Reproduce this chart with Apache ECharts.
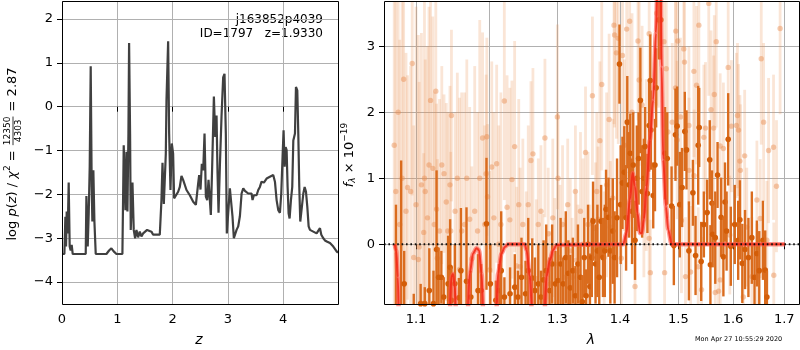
<!DOCTYPE html>
<html>
<head>
<meta charset="utf-8">
<script src="https://cdn.jsdelivr.net/npm/echarts@6/dist/echarts.min.js"></script>
<style>
html, body { margin: 0; padding: 0; background: #fff; }
#chart { width: 800px; height: 350px; }
</style>
</head>
<body>
<div id="chart"></div>
<script>
// left panel: log p(z) curve, [z, log p]
const pzPoints = [
  [0,-3.36],[0.043,-3.36],[0.061,-2.51],[0.073,-3.19],[0.085,-2.39],[0.103,-2.89],[0.121,-1.73],[0.139,-3.19],
  [0.157,-3.28],[0.175,-3.15],[0.194,-3.36],[0.429,-3.36],[0.441,-2.04],[0.465,-3.19],[0.483,-2.43],[0.501,-1.37],
  [0.519,0.92],[0.537,-1.83],[0.549,-2.62],[0.567,-1.45],[0.586,-2.62],[0.61,-3.36],[0.803,-3.36],[0.851,-3.28],
  [0.893,-3.23],[0.935,-3.3],[0.984,-3.36],[1.092,-3.36],[1.116,-0.88],[1.147,-2.36],[1.165,-1.03],[1.183,-2.39],
  [1.201,-0.61],[1.213,1.45],[1.231,-0.61],[1.243,-2.81],[1.262,-2.13],[1.274,-1.73],[1.297,-2.81],[1.322,-3.0],
  [1.346,-2.81],[1.376,-2.98],[1.406,-2.85],[1.436,-2.96],[1.467,-2.89],[1.539,-2.81],[1.617,-2.85],[1.648,-2.92],
  [1.768,-2.92],[1.798,-2.13],[1.817,-1.28],[1.841,-2.22],[1.877,-1.07],[1.889,0.14],[1.919,1.49],[1.937,-0.61],
  [1.961,-1.9],[1.985,-0.84],[2.009,-1.07],[2.027,-2.09],[2.058,-2.13],[2.1,-1.94],[2.13,-1.83],[2.16,-1.58],
  [2.19,-1.67],[2.221,-1.71],[2.251,-1.9],[2.311,-2.02],[2.372,-2.17],[2.42,-2.24],[2.462,-1.75],[2.48,-1.56],
  [2.504,-1.89],[2.528,-1.3],[2.553,-1.45],[2.577,-0.61],[2.601,-2.05],[2.625,-2.13],[2.649,-1.67],[2.667,-1.64],
  [2.691,-2.47],[2.715,-1.37],[2.746,0.23],[2.77,-0.69],[2.794,-0.2],[2.812,-1.52],[2.83,-2.42],[2.854,-1.37],
  [2.884,-0.23],[2.914,0.67],[2.938,0.75],[2.962,-0.61],[2.98,-2.89],[3.005,-2.92],[3.035,-1.86],[3.053,-1.83],
  [3.083,-2.51],[3.107,-3.0],[3.131,-3.04],[3.156,-2.81],[3.186,-2.73],[3.216,-2.5],[3.247,-1.98],[3.277,-1.86],
  [3.307,-1.92],[3.337,-1.9],[3.367,-1.98],[3.397,-1.94],[3.427,-1.98],[3.445,-2.13],[3.469,-2.02],[3.487,-1.98],
  [3.518,-2.02],[3.548,-1.9],[3.578,-1.83],[3.608,-1.71],[3.65,-1.73],[3.699,-1.64],[3.759,-1.6],[3.819,-1.56],
  [3.85,-1.71],[3.88,-2.13],[3.91,-2.36],[3.94,-2.42],[3.964,-1.98],[3.988,-1.14],[4.006,-0.54],[4.025,-1.37],
  [4.043,-0.92],[4.061,-0.99],[4.079,-1.83],[4.097,-2.43],[4.115,-2.55],[4.139,-2.13],[4.163,-1.83],[4.182,-0.77],
  [4.212,-0.61],[4.23,0.45],[4.254,0.37],[4.272,-0.61],[4.29,-1.83],[4.308,-2.62],[4.332,-2.58],[4.363,-1.98],
  [4.387,-1.83],[4.411,-1.94],[4.435,-2.28],[4.459,-2.73],[4.483,-2.81],[4.513,-2.77],[4.543,-2.85],[4.573,-2.81],
  [4.603,-2.89],[4.634,-2.92],[4.664,-2.77],[4.688,-2.92],[4.724,-3.0],[4.754,-3.05],[4.796,-3.08],[4.845,-3.11],
  [4.905,-3.19],[4.965,-3.3],[4.989,-3.33]
];

// right panel: spectrum points [lambda, flux, err]
const lightPoints = [
  [1.072,1.5,3.2],[1.074,0.8,3.0],[1.077,2.0,3.0],[1.079,0.3,2.8],[1.082,1.0,2.8],[1.084,2.5,2.6],[1.087,0.5,2.4],
  [1.089,0.86,1.7],[1.093,0.8,1.9],[1.095,2.74,2.0],[1.097,-0.2,2.0],[1.100,0.6,3.0],[1.103,-0.23,3.4],[1.104,-0.04,2.5],
  [1.107,0.9,2.3],[1.110,0.18,1.2],[1.111,1.0,2.7],[1.112,0.8,2.0],[1.115,0.4,2.6],[1.117,1.2,2.4],[1.119,2.18,2.2],
  [1.122,1.15,2.3],[1.124,0.3,2.0],[1.126,2.32,1.8],[1.127,0.53,1.6],[1.128,-0.21,1.5],[1.131,0.2,2.0],[1.134,1.2,1.5],
  [1.137,1.07,1.2],[1.140,0.64,1.5],[1.142,0.2,1.8],[1.145,0.9,1.5],[1.146,0.2,1.2],[1.147,1.95,1.3],[1.152,0.5,1.5],
  [1.155,1.0,1.6],[1.158,-0.38,2.6],[1.161,0.2,2.1],[1.165,0.3,2.0],[1.168,1.0,1.8],[1.172,0.38,1.7],[1.175,-0.22,1.4],
  [1.179,0.5,2.2],[1.183,0.2,1.8],[1.186,1.0,2.4],[1.190,1.61,1.6],[1.193,0.3,1.5],[1.195,1.07,1.5],[1.196,1.63,1.5],
  [1.197,0.72,1.1],[1.200,-0.39,1.5],[1.203,1.17,1.6],[1.206,0.4,1.6],[1.210,1.22,1.5],[1.213,0.0,1.8],[1.216,0.3,2.0],
  [1.221,2.17,1.5],[1.225,0.56,2.0],[1.229,0.37,2.0],[1.232,0.98,1.5],[1.236,1.48,1.6],[1.239,-0.33,1.2],[1.242,0.6,1.6],
  [1.244,-0.34,1.5],[1.248,0.3,1.3],[1.253,-0.5,1.3],[1.256,0.6,1.2],[1.260,1.27,1.2],[1.263,1.37,1.3],[1.268,-0.52,1.2],
  [1.271,0.3,1.0],[1.275,0.5,1.0],[1.278,-0.44,0.9],[1.281,1.61,1.2],[1.286,0.16,1.0],[1.289,-0.6,0.8],[1.293,0.4,1.2],
  [1.296,-0.3,1.0],[1.300,1.93,1.4],[1.301,1.0,1.0],[1.304,-0.2,1.1],[1.308,0.3,1.2],[1.312,-0.5,0.9],[1.316,0.6,1.0],
  [1.320,-0.1,1.1],[1.323,-0.5,0.9],[1.328,0.8,1.0],[1.329,-0.24,1.0],[1.332,-0.4,1.0],[1.336,0.5,1.2],[1.340,0.0,1.3],
  [1.344,1.39,1.0],[1.348,0.3,1.1],[1.351,-0.4,1.0],[1.355,2.25,1.2],[1.360,0.24,1.0],[1.362,0.8,1.2],[1.364,0.38,1.1],
  [1.367,1.57,1.2],[1.370,2.42,1.3],[1.374,-0.2,1.0],[1.378,0.9,1.4],[1.382,1.89,1.3],[1.384,0.26,1.0],[1.388,0.7,1.2],
  [1.390,3.32,1.5],[1.391,3.17,1.4],[1.394,2.90,1.3],[1.397,3.12,1.6],[1.402,-0.21,1.0],[1.404,2.86,1.3],[1.407,1.5,1.3],
  [1.411,3.26,1.5],[1.416,3.38,1.4],[1.420,2.0,1.5],[1.425,-0.64,0.9],[1.430,3.08,1.2],[1.432,2.49,1.3],[1.437,2.11,1.2],
  [1.440,0.5,1.0],[1.444,1.2,1.3],[1.449,3.19,1.4],[1.449,0.09,1.0],[1.451,-0.43,0.8],[1.462,3.5,1.4],[1.465,3.37,1.3],
  [1.4746,3.07,1.3],[1.4757,-0.43,1.0],[1.4786,2.66,1.2],[1.4815,1.70,1.3],[1.489,1.85,1.2],[1.4948,2.37,1.3],
  [1.4954,3.23,1.2],[1.4977,1.58,1.2],[1.4988,3.08,1.3],[1.5036,1.93,1.2],[1.5054,0.36,1.1],[1.5096,2.96,1.2],
  [1.5108,2.76,1.3],[1.5126,-0.49,0.9],[1.5187,1.80,1.2],[1.519,1.12,1.1],[1.5217,-0.42,1.0],[1.5277,2.62,1.3],
  [1.528,1.04,1.0],[1.5325,2.41,1.2],[1.5355,-0.34,0.9],[1.5367,3.32,1.3],[1.5415,-0.69,0.8],[1.5458,1.62,1.1],
  [1.5488,1.76,1.0],[1.5548,3.65,1.4],[1.559,2.04,1.2],[1.5638,1.76,1.1],[1.565,2.27,1.2],[1.5668,-0.73,0.8],
  [1.5686,3.07,1.3],[1.5728,-0.71,0.8],[1.5759,1.49,1.1],[1.576,-0.54,0.9],[1.5819,1.45,1.0],[1.5909,2.68,1.2],
  [1.594,0.14,0.9],[1.597,1.79,1.0],[1.6065,1.80,1.1],[1.6085,1.95,1.1],[1.6105,1.73,1.0],[1.6131,1.26,1.0],
  [1.614,1.12,1.0],[1.6196,-0.80,0.8],[1.6222,1.34,1.0],[1.6262,0.26,0.9],[1.636,-0.49,0.9],[1.6458,0.67,0.9],
  [1.646,-0.49,0.8],[1.6523,0.39,0.9],[1.6543,2.81,1.3],[1.6589,1.85,1.2],[1.6654,0.06,0.9],[1.6687,1.42,1.1],
  [1.6785,1.47,1.1],[1.679,-0.47,0.8],[1.6844,0.88,1.0],[1.6916,3.27,1.3]
];

const darkPoints = [
  [1.0742,-1.2,1.8],[1.0808,-1.0,2.27],[1.0847,-0.6,0.5],[1.097,-0.95,0.2],[1.106,-0.9,0.3],[1.1114,-0.9,0.25],
  [1.1174,-0.7,0.64],[1.1229,-0.9,0.5],[1.127,-0.08,1.2],[1.1297,-0.5,0.45],[1.1334,-0.5,0.4],[1.1366,-0.8,0.3],
  [1.1425,-0.6,0.73],[1.1452,-0.35,0.73],[1.1471,-0.85,0.5],[1.1516,-0.6,0.6],[1.1571,-0.81,0.3],[1.1599,-0.4,0.95],
  [1.1676,-0.56,1.12],[1.1736,-0.8,0.4],[1.1836,-0.7,0.55],[1.188,-0.7,0.4],[1.1955,0.31,1.0],[1.201,-0.6,0.6],
  [1.2088,-0.85,0.3],[1.2133,-0.7,0.4],[1.2165,-0.4,0.9],[1.2211,-0.8,0.3],[1.2293,-0.75,0.4],[1.2362,-0.65,0.5],
  [1.2408,-0.8,0.4],[1.246,-0.5,0.6],
  [1.252,-0.75,0.5],[1.256,-0.4,0.8],[1.262,-0.51,0.6],[1.266,-0.7,0.5],[1.271,-0.6,0.6],[1.275,-0.8,0.4],
  [1.279,-0.54,0.6],[1.283,-0.4,0.7],[1.288,-0.7,0.5],[1.292,-0.3,0.6],[1.297,-0.6,0.5],[1.301,-0.55,0.55],
  [1.305,-0.3,0.7],[1.309,-0.6,0.4],[1.313,-0.2,0.7],[1.317,-0.44,0.5],[1.320,-0.66,0.5],[1.324,-0.4,0.5],
  [1.328,-0.78,0.45],[1.332,-0.3,0.6],[1.336,-0.5,0.5],[1.339,-0.87,0.4],[1.342,-0.2,0.6],[1.345,-0.78,0.4],
  [1.348,0.0,0.6],[1.351,-0.64,0.5],[1.354,-0.2,0.6],[1.356,0.35,0.6],[1.360,-0.3,0.6],[1.363,-0.1,0.7],
  [1.366,-0.5,0.5],[1.369,0.35,0.55],[1.372,-0.2,0.6],[1.375,-0.1,0.7],[1.377,0.53,0.6],[1.381,0.41,0.6],
  [1.384,-0.1,0.8],[1.388,0.2,0.8],[1.391,-0.2,0.7],[1.395,0.4,0.9],[1.399,2.73,0.6],[1.401,0.6,0.9],
  [1.404,0.93,0.7],[1.407,1.09,0.7],[1.410,0.4,0.8],[1.412,1.85,0.7],[1.415,0.9,0.8],[1.417,1.38,0.6],
  [1.420,0.5,0.8],[1.422,1.2,0.8],[1.425,0.06,0.6],[1.428,1.0,0.8],[1.431,1.30,0.7],[1.434,2.18,0.8],
  [1.437,0.8,0.7],[1.440,1.0,0.6],[1.442,1.48,0.6],[1.446,0.77,0.6],[1.449,1.8,0.7],[1.451,2.48,0.7],
  [1.452,1.73,0.6],[1.456,0.74,0.5],[1.459,1.2,0.7],[1.461,2.37,0.6],[1.466,3.40,0.6],[1.469,3.40,0.6],
  [1.4764,1.38,0.7],[1.4803,1.3,0.7],[1.4879,0.58,0.6],[1.4919,-0.02,0.6],[1.4948,1.66,0.7],[1.4977,1.79,0.6],
  [1.5024,0.6,0.8],[1.5066,0.86,0.6],[1.5114,1.71,0.6],[1.5144,1.43,0.6],[1.5187,-0.1,0.75],[1.5259,0.78,0.5],
  [1.5307,-0.17,0.6],[1.5355,1.5,0.9],[1.5373,1.77,0.6],[1.5409,-0.26,0.6],[1.5458,0.30,0.5],[1.5518,0.48,0.5],
  [1.5566,1.28,0.6],[1.5578,-0.31,0.6],[1.5608,0.62,0.5],[1.562,0.15,0.5],[1.5668,0.1,0.7],[1.571,1.05,0.5],
  [1.5777,0.41,0.6],[1.5819,-0.19,0.6],[1.5849,0.64,0.6],[1.5879,0.2,0.6],[1.5909,1.59,0.7],[1.5958,-0.03,0.6],
  [1.6033,0.3,0.6],[1.6098,0.06,0.6],[1.6131,0.37,0.6],[1.6177,-0.29,0.6],[1.6229,-0.08,0.6],[1.6294,-0.2,0.6],
  [1.636,0.1,0.7],[1.6412,-0.5,0.5],[1.6458,-0.14,0.5],[1.6504,-0.4,0.6],[1.6576,0.06,0.6],[1.6621,-0.39,0.6],
  [1.6654,-0.8,0.4]
];

// best-fit model, [lambda, flux]
const modelPoints = [
  [1.0726,0],[1.0745,-0.1],[1.0765,-0.5],[1.0781,-1.2],[1.1440,-1.2],[1.1470,-0.49],[1.1492,-0.45],[1.1515,-0.64],
  [1.1538,-1.2],[1.1684,-1.2],[1.1721,-0.44],[1.1767,-0.14],[1.1815,-0.06],[1.1851,-0.09],[1.1885,-0.44],[1.1917,-1.2],
  [1.2088,-1.2],[1.2120,-0.44],[1.2169,-0.14],[1.2217,-0.04],[1.2265,0],[1.2509,0],[1.2535,-0.09],[1.2584,-0.49],
  [1.2624,-1.2],[1.2794,-1.2],[1.2835,-0.49],[1.2885,-0.24],[1.2935,-0.09],[1.2987,-0.01],[1.4052,0],[1.4108,0.17],
  [1.4163,0.67],[1.4209,1.08],[1.4248,0.88],[1.4293,0.47],[1.4332,0.17],[1.4366,0.17],[1.4400,0.37],[1.4446,0.87],
  [1.4503,1.58],[1.4559,2.19],[1.4606,3.2],[1.4635,4.0],[1.4687,4.0],[1.4705,2.69],[1.4733,1.28],[1.4780,0.57],
  [1.4820,0.22],[1.4880,0],[1.7014,0]
];

const zTicks = [0, 1, 2, 3, 4];
const logpTicks = [-4, -3, -2, -1, 0, 1, 2];
const lamTicks = [1.1, 1.2, 1.3, 1.4, 1.5, 1.6, 1.7];
const fluxTicks = [0, 1, 2, 3];

const FONT = 'DejaVu Sans';
const chart = echarts.init(document.getElementById('chart'));

const minus = v => String(v).replace('-', '\u2212');
const lamMin = 1.0591, lamMax = 1.7298;

// error bar + dot, clipped to the grid
function errRender(barW, barColor, dotR, dotColor) {
  return function (params, api) {
    const cs = params.coordSys;
    const x = api.value(0), y = api.value(1), e = api.value(2);
    const top = api.coord([x, y + e]);
    const bot = api.coord([x, y - e]);
    const c = api.coord([x, y]);
    const y0 = Math.max(top[1], cs.y), y1 = Math.min(bot[1], cs.y + cs.height);
    const children = [];
    if (y1 > y0) {
      children.push({ type: 'rect', shape: { x: c[0] - barW / 2, y: y0, width: barW, height: y1 - y0 }, style: { fill: barColor } });
    }
    if (c[1] >= cs.y && c[1] <= cs.y + cs.height) {
      children.push({ type: 'circle', shape: { cx: c[0], cy: c[1], r: dotR }, style: { fill: dotColor } });
    }
    return { type: 'group', children: children };
  };
}

// measure text for the math labels
const ctx = document.createElement('canvas').getContext('2d');
function textW(t, size, italic) {
  ctx.font = (italic ? 'italic ' : '') + size + 'px "' + FONT + '"';
  return ctx.measureText(t).width;
}
// lay pieces along a rotated line, centred at 0
function mathLabel(cx, cy, pieces) {
  let total = 0;
  pieces.forEach(p => { p.w = p.frac ? textW(p.frac[0], p.size, false) + 2 : textW(p.t, p.size, p.it); total += p.w; });
  let x = -total / 2;
  const children = [];
  pieces.forEach(p => {
    if (p.frac) {
      const mid = x + p.w / 2;
      children.push({ type: 'text', x: mid, y: -5, style: { text: p.frac[0], font: p.size + 'px "' + FONT + '"', fill: '#000', align: 'center', verticalAlign: 'middle' } });
      children.push({ type: 'text', x: mid, y: 5.5, style: { text: p.frac[1], font: p.size + 'px "' + FONT + '"', fill: '#000', align: 'center', verticalAlign: 'middle' } });
      children.push({ type: 'line', shape: { x1: x + 1, y1: 0, x2: x + p.w - 1, y2: 0 }, style: { stroke: '#000', lineWidth: 0.8 } });
    } else {
      children.push({ type: 'text', x: x, y: p.dy || 0, style: { text: p.t, font: (p.it ? 'italic ' : '') + p.size + 'px "' + FONT + '"', fill: '#000', align: 'left', verticalAlign: 'middle' } });
    }
    x += p.w;
  });
  return { type: 'group', x: cx, y: cy, rotation: Math.PI / 2, children: children };
}

const axisBase = {
  axisLine: { show: false },
  axisTick: { show: true, length: 5, lineStyle: { color: '#000', width: 1 } },
  axisLabel: { color: '#000', fontFamily: FONT, fontSize: 13, margin: 9 },
  splitLine: { show: true, lineStyle: { color: '#b0b0b0', width: 1 } }
};
function axis(extra, ticks, fmt) {
  return Object.assign({ type: 'value' }, extra, {
    axisLine: axisBase.axisLine,
    axisTick: Object.assign({}, axisBase.axisTick, { customValues: ticks }),
    axisLabel: Object.assign({}, axisBase.axisLabel, { customValues: ticks, formatter: fmt }),
    splitLine: axisBase.splitLine
  });
}

const option = {
  animation: false,
  backgroundColor: '#fff',
  grid: [
    { left: 62, top: 1, width: 276, height: 303 },
    { left: 384, top: 1, width: 415, height: 303 }
  ],
  xAxis: [
    axis({ gridIndex: 0, min: 0, max: 4.99 }, zTicks, minus),
    axis({ gridIndex: 1, min: Math.log(lamMin), max: Math.log(lamMax) }, lamTicks.map(Math.log), v => Math.exp(v).toFixed(1))
  ],
  yAxis: [
    axis({ gridIndex: 0, min: -4.5, max: 2.41 }, logpTicks, minus),
    axis({ gridIndex: 1, min: -0.905, max: 3.686 }, fluxTicks, minus)
  ],
  series: [
    {
      type: 'line', xAxisIndex: 0, yAxisIndex: 0, showSymbol: false, symbol: 'none',
      data: pzPoints,
      lineStyle: { color: '#404040', width: 2.2 }
    },
    {
      type: 'custom', xAxisIndex: 1, yAxisIndex: 1, z: 2,
      data: lightPoints.map(p => [Math.log(p[0]), p[1], p[2]]),
      encode: { x: 0, y: 1 },
      renderItem: errRender(2.8, 'rgba(236,145,85,0.24)', 2.7, 'rgba(232,140,80,0.45)')
    },
    {
      type: 'custom', xAxisIndex: 1, yAxisIndex: 1, z: 3,
      data: darkPoints.map(p => [Math.log(p[0]), p[1], p[2]]),
      encode: { x: 0, y: 1 },
      renderItem: errRender(2.4, '#da6c1e', 2.8, '#d35d08')
    },
    {
      type: 'line', xAxisIndex: 1, yAxisIndex: 1, z: 4, symbol: 'none', smooth: 0.3, smoothMonotone: 'x',
      data: modelPoints.map(p => [Math.log(p[0]), p[1]]),
      lineStyle: { color: 'rgba(255,85,75,0.6)', width: 4.5 }
    },
    {
      type: 'line', xAxisIndex: 1, yAxisIndex: 1, z: 5, symbol: 'none', smooth: 0.3, smoothMonotone: 'x',
      data: modelPoints.map(p => [Math.log(p[0]), p[1]]),
      lineStyle: { color: 'rgba(242,40,20,0.85)', width: 2 }
    },
    {
      type: 'line', xAxisIndex: 1, yAxisIndex: 1, z: 6, symbol: 'none',
      data: [[Math.log(lamMin), 0], [Math.log(lamMax), 0]],
      lineStyle: { color: '#111', width: 1.8, type: [1.6, 2.8] }
    }
  ],
  graphic: [
    { type: 'rect', z: 100, shape: { x: 62.5, y: 1.5, width: 276, height: 303 }, style: { fill: 'none', stroke: '#000', lineWidth: 1 } },
    { type: 'rect', z: 100, shape: { x: 384.5, y: 1.5, width: 415, height: 303 }, style: { fill: 'none', stroke: '#000', lineWidth: 1 } },
    { type: 'text', x: 323, y: 20, style: { text: 'j163852p4039', font: '12px "' + FONT + '"', fill: '#000', align: 'right', verticalAlign: 'middle' } },
    { type: 'text', x: 323, y: 34, style: { text: 'ID=1797   z=1.9330', font: '12px "' + FONT + '"', fill: '#000', align: 'right', verticalAlign: 'middle' } },
    { type: 'text', x: 199, y: 340, style: { text: 'z', font: 'italic 14px "' + FONT + '"', fill: '#000', align: 'center', verticalAlign: 'middle' } },
    { type: 'text', x: 591, y: 340, style: { text: 'λ', font: 'italic 14px "' + FONT + '"', fill: '#000', align: 'center', verticalAlign: 'middle' } },
    { type: 'text', x: 695, y: 339, style: { text: 'Mon Apr 27 10:55:29 2020', font: '6.5px "' + FONT + '"', fill: '#000', align: 'left', verticalAlign: 'middle' } },
    mathLabel(13, 154, [
      { t: 'log ', size: 13 }, { t: 'p', size: 13, it: true }, { t: '(', size: 13 }, { t: 'z', size: 13, it: true },
      { t: ') / ', size: 13 }, { t: 'χ', size: 13, it: true }, { t: '2', size: 9, dy: -5 }, { t: ' = ', size: 13 },
      { frac: ['12350', '4303'], size: 9 }, { t: ' = 2.87', size: 13 }
    ]),
    mathLabel(350, 155, [
      { t: 'f', size: 13, it: true }, { t: 'λ', size: 9, it: true, dy: 3 }, { t: ' × 10', size: 13 }, { t: '−19', size: 9, dy: -5 }
    ])
  ]
};

chart.setOption(option);
</script>
</body>
</html>
